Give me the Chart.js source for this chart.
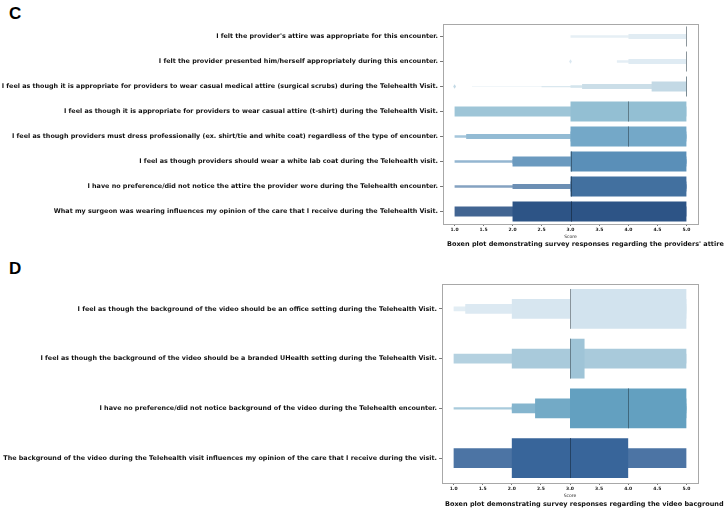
<!DOCTYPE html>
<html>
<head>
<meta charset="utf-8">
<script src="https://cdn.jsdelivr.net/npm/chart.js@4.4.1/dist/chart.umd.min.js"></script>
<style>
  html, body { margin: 0; padding: 0; background: #fff; }
  body { width: 728px; height: 509px; position: relative; overflow: hidden; }
  canvas { position: absolute; left: 0; }
  .panel { position: absolute; font-family: 'Liberation Sans', Arial, sans-serif; font-weight: bold; font-size: 17px; line-height: 1; color: #000; }
  .caption { position: absolute; font-family: 'DejaVu Sans', sans-serif; font-weight: bold; font-size: 6.5px; line-height: 1; white-space: nowrap; color: #111; }
</style>
</head>
<body>
<div class="panel" style="left:9px; top:5px;">C</div>
<canvas id="chartAttire" width="728" height="256" style="top:0"></canvas>
<div class="caption" style="left:447px; top:241px;">Boxen plot demonstrating survey responses regarding the providers' attire</div>

<div class="panel" style="left:9px; top:260px;">D</div>
<canvas id="chartBackground" width="728" height="253" style="top:256px"></canvas>
<div class="caption" style="left:445px; top:501px;">Boxen plot demonstrating survey responses regarding the video bacground</div>

<script>
// ---- data ----
const scoreTicks = [1.0, 1.5, 2.0, 2.5, 3.0, 3.5, 4.0, 4.5, 5.0];

const attireLabels = [
  "I felt the provider's attire was appropriate for this encounter.",
  "I felt the provider presented him/herself appropriately during this encounter.",
  "I feel as though it is appropriate for providers to wear casual medical attire (surgical scrubs) during the Telehealth Visit.",
  "I feel as though it is appropriate for providers to wear casual attire (t-shirt) during the Telehealth Visit.",
  "I feel as though providers must dress professionally (ex. shirt/tie and white coat) regardless of the type of encounter.",
  "I feel as though providers should wear a white lab coat during the Telehealth visit.",
  "I have no preference/did not notice the attire the provider wore during the Telehealth encounter.",
  "What my surgeon was wearing influences my opinion of the care that I receive during the Telehealth Visit."
];
const attireMedians = [5, 5, 5, 4, 4, 3, 3, 3];
// letter-value boxes per question, innermost level first
const attireBoxes = [
  [[5, 5], [5, 5], [4, 5], [3, 5]],
  [[5, 5], [5, 5], [4, 5], [3.8, 5]],
  [[5, 5], [4.4, 5], [3.2, 5], [3, 5], [2.5, 5], [1.3, 5]],
  [[3, 5], [1, 5]],
  [[3, 5], [3, 5], [1.2, 5], [1, 5]],
  [[3, 5], [2, 5], [2, 5], [1, 5]],
  [[3, 5], [3, 5], [2, 5], [1, 5]],
  [[2, 5], [1, 5]]
];
const attireOutliers = [[], [3], [1], [], [], [], [], []];

const backgroundLabels = [
  "I feel as though the background of the video should be an office setting during the Telehealth Visit.",
  "I feel as though the background of the video should be a branded UHealth setting during the Telehealth Visit.",
  "I have no preference/did not notice background of the video during the Telehealth encounter.",
  "The background of the video during the Telehealth visit influences my opinion of the care that I receive during the visit."
];
const backgroundMedians = [3, 3, 4, 3];
const backgroundBoxes = [
  [[3, 5], [2, 5], [1.2, 5], [1, 5]],
  [[3, 3.25], [2, 5], [1, 5]],
  [[3, 5], [2.4, 5], [2, 5], [2, 5], [1, 5]],
  [[2, 4], [1, 5]]
];
const backgroundOutliers = [[], [], [], []];

// ---- styles ----
const attireColors = ['#d9e7f0', '#d6e5ef', '#bcd5e2', '#93bfd3', '#74a8c8', '#5a8fb8', '#42709f', '#2d5486'];
const backgroundColors = ['#d2e3ee', '#9fc4d7', '#63a0c0', '#38659a'];
const levelTint = [0, 0.1, 0.22, 0.35, 0.45, 0.6];

function mix(hex, target, t) {
  const n = parseInt(hex.slice(1), 16);
  const c = [(n >> 16) & 255, (n >> 8) & 255, n & 255];
  const out = c.map(v => Math.round(v + (target - v) * t));
  return 'rgb(' + out.join(',') + ')';
}

function makeDatasets(boxes, bases) {
  const depth = Math.max(...boxes.map(r => r.length));
  const sets = [];
  for (let L = 0; L < depth; L++) {
    sets.push({
      data: boxes.map(r => r[L] || null),
      backgroundColor: bases.map(b => mix(b, 255, levelTint[L])),
      borderWidth: 0,
      barPercentage: 0.8 * Math.pow(0.5, L),
      categoryPercentage: 1,
      grouped: false,
      order: L
    });
  }
  return sets;
}

// medians, outliers and the axes frame
const boxenExtras = {
  id: 'boxenExtras',
  afterDatasetsDraw(chart, args, opts) {
    const { ctx, scales: { x, y } } = chart;
    const band = y.getPixelForValue(1) - y.getPixelForValue(0);
    ctx.save();
    opts.medians.forEach((m, i) => {
      const cy = y.getPixelForValue(i);
      const half = band * 0.4;
      const px = Math.round(x.getPixelForValue(m)) + 0.5;
      ctx.strokeStyle = mix(opts.bases[i], 0, 0.35);
      ctx.lineWidth = 1;
      ctx.beginPath();
      ctx.moveTo(px, cy - half);
      ctx.lineTo(px, cy + half);
      ctx.stroke();
    });
    opts.outliers.forEach((list, i) => {
      const cy = y.getPixelForValue(i);
      ctx.fillStyle = mix(opts.bases[i], 255, 0.1);
      list.forEach(v => {
        const px = x.getPixelForValue(v);
        ctx.beginPath();
        ctx.moveTo(px, cy - 2.2);
        ctx.lineTo(px + 1.4, cy);
        ctx.lineTo(px, cy + 2.2);
        ctx.lineTo(px - 1.4, cy);
        ctx.closePath();
        ctx.fill();
      });
    });
    ctx.restore();
  },
  afterDraw(chart) {
    const { ctx, chartArea: a } = chart;
    ctx.save();
    ctx.strokeStyle = '#a8a8a8';
    ctx.lineWidth = 1;
    ctx.strokeRect(Math.round(a.left) + 0.5, Math.round(a.top) + 0.5,
      Math.round(a.right - a.left), Math.round(a.bottom - a.top));
    ctx.restore();
  }
};

function drawBoxen(id, labels, boxes, medians, outliers, bases, frame) {
  const ctx = document.getElementById(id);
  return new Chart(ctx, {
    type: 'bar',
    data: { labels: labels, datasets: makeDatasets(boxes, bases) },
    plugins: [boxenExtras],
    options: {
      indexAxis: 'y',
      responsive: false,
      animation: false,
      devicePixelRatio: 1,
      layout: { padding: { top: frame.top, right: frame.right, bottom: frame.bottom, left: 0 } },
      plugins: {
        legend: { display: false },
        tooltip: { enabled: false },
        boxenExtras: { medians: medians, outliers: outliers, bases: bases }
      },
      scales: {
        x: {
          type: 'linear',
          min: 0.8,
          max: 5.2,
          afterBuildTicks(scale) { scale.ticks = scoreTicks.map(v => ({ value: v })); },
          afterFit(scale) { scale.height = 16; },
          border: { display: false },
          grid: { drawOnChartArea: false, tickLength: 2, tickColor: '#777' },
          ticks: {
            padding: 1,
            maxRotation: 0,
            color: '#222',
            font: { family: 'DejaVu Sans', weight: 'bold', size: 4.5 },
            callback: v => Number(v).toFixed(1)
          },
          title: {
            display: true,
            text: 'Score',
            color: '#222',
            padding: 0,
            font: { family: 'DejaVu Sans', size: 4.5 }
          }
        },
        y: {
          type: 'category',
          afterFit(scale) { scale.width = frame.left; },
          border: { display: false },
          grid: { offset: false, drawOnChartArea: false, tickLength: 3, tickColor: '#777' },
          ticks: {
            padding: 2,
            autoSkip: false,
            color: '#111',
            font: { family: 'DejaVu Sans', weight: 'bold', size: 6.4 }
          }
        }
      }
    }
  });
}

drawBoxen('chartAttire', attireLabels, attireBoxes, attireMedians, attireOutliers, attireColors,
  { left: 443, top: 24, right: 30, bottom: 16 });
drawBoxen('chartBackground', backgroundLabels, backgroundBoxes, backgroundMedians, backgroundOutliers, backgroundColors,
  { left: 442, top: 28, right: 30, bottom: 10 });
</script>
</body>
</html>
